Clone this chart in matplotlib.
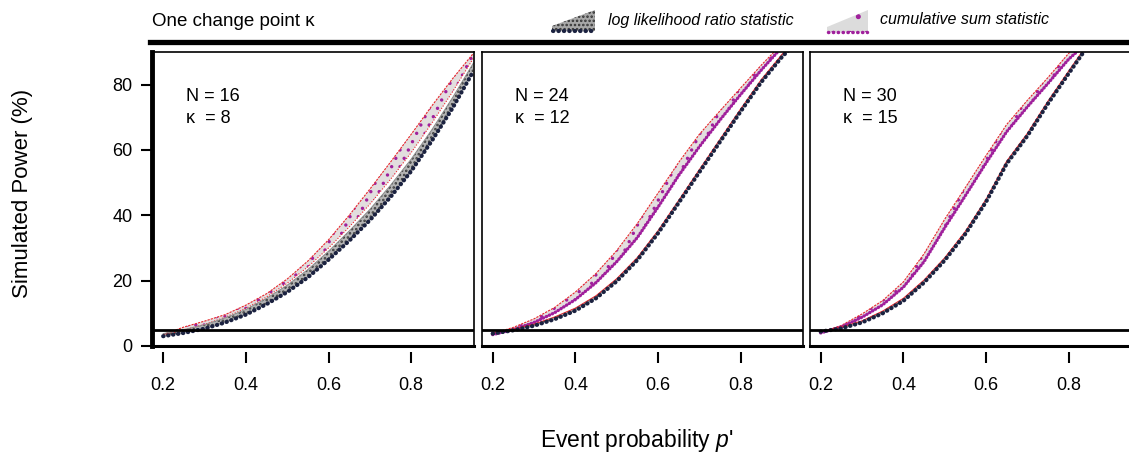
import matplotlib.pyplot as plt
from matplotlib.lines import Line2D
from matplotlib.patches import Polygon

plt.rcParams['font.family'] = ['Liberation Sans', 'DejaVu Sans']
plt.rcParams['mathtext.fontset'] = 'custom'
plt.rcParams['mathtext.it'] = 'Liberation Sans:italic'
plt.rcParams['mathtext.rm'] = 'Liberation Sans'
plt.rcParams['hatch.linewidth'] = 1.2

# event probability grid
p_grid = [0.20, 0.25, 0.30, 0.35, 0.40, 0.45, 0.50, 0.55,
          0.60, 0.65, 0.70, 0.75, 0.80, 0.85, 0.90, 0.95]

# N = 16, kappa = 8
n16_llr_lo = [3.0, 4.0, 5.3, 7.2, 9.6, 12.8, 16.5, 21.0, 26.4, 32.2, 38.5, 45.6, 53.5, 62.8, 72.8, 84.0]
n16_llr_hi = [3.8, 5.0, 6.5, 8.6, 11.2, 14.6, 18.6, 23.4, 29.0, 35.2, 41.8, 49.2, 57.2, 66.2, 76.0, 86.5]
n16_cus_lo = [3.3, 4.9, 6.6, 8.8, 11.5, 15.0, 19.2, 24.2, 30.0, 36.4, 43.4, 51.0, 59.2, 68.2, 77.8, 88.0]
n16_cus_hi = [3.5, 5.8, 7.6, 9.6, 12.5, 16.0, 20.5, 26.0, 32.5, 40.0, 48.0, 56.3, 64.8, 73.5, 81.8, 89.5]

# N = 24, kappa = 12
n24_llr_lo = [3.8, 4.8, 6.2, 8.2, 10.8, 14.6, 19.8, 26.3, 34.5, 43.8, 53.2, 62.5, 71.8, 80.8, 88.5, 95.0]
n24_llr_hi = [4.0, 5.2, 6.7, 8.9, 11.6, 15.4, 20.6, 27.1, 35.3, 44.6, 54.0, 63.3, 72.6, 81.6, 89.3, 95.8]
n24_cus_lo = [3.5, 5.0, 7.2, 10.2, 14.2, 19.4, 25.8, 33.2, 42.5, 52.2, 61.0, 69.2, 77.0, 84.5, 91.5, 96.0]
n24_cus_hi = [3.8, 5.7, 8.3, 11.8, 16.5, 22.2, 29.2, 37.5, 46.8, 56.2, 64.8, 72.0, 79.0, 86.0, 92.5, 97.0]

# N = 30, kappa = 15
n30_llr_lo = [4.4, 5.4, 7.2, 10.0, 13.8, 19.4, 26.2, 34.3, 44.1, 55.8, 64.3, 74.2, 83.4, 92.5, 99.0, 100.0]
n30_llr_hi = [4.6, 5.8, 7.7, 10.7, 14.6, 20.2, 27.0, 35.1, 44.9, 56.6, 65.1, 75.0, 84.2, 93.3, 99.8, 100.0]
n30_cus_lo = [4.0, 5.8, 8.8, 12.6, 18.0, 25.8, 36.2, 46.0, 56.0, 65.6, 73.2, 80.4, 87.8, 93.5, 98.4, 100.0]
n30_cus_hi = [4.2, 6.3, 9.8, 13.9, 19.6, 28.2, 38.8, 48.5, 58.3, 67.8, 75.2, 82.2, 89.6, 95.0, 99.0, 100.0]

panel_n = [16, 24, 30]
panel_kappa = [8, 12, 15]
llr_lo = [n16_llr_lo, n24_llr_lo, n30_llr_lo]
llr_hi = [n16_llr_hi, n24_llr_hi, n30_llr_hi]
cus_lo = [n16_cus_lo, n24_cus_lo, n30_cus_lo]
cus_hi = [n16_cus_hi, n24_cus_hi, n30_cus_hi]

NAVY = '#1b2240'
MAGENTA = '#a0209c'
RED = '#e8252a'

W, H = 1129, 458
fig = plt.figure(figsize=(W / 100, H / 100), dpi=100)


def fx(x):
    return x / W


def fy(y):
    return 1 - y / H


lefts = [152, 481.5, 809.5]
for i in range(3):
    ax = fig.add_axes([fx(lefts[i]), fy(346), 322 / W, 294 / H])
    ax.set_xlim(0.173, 0.952)
    ax.set_ylim(0, 90)

    # cumulative sum band
    ax.fill_between(p_grid, cus_lo[i], cus_hi[i], facecolor='#e2dede',
                    edgecolor=MAGENTA, hatch='..', linewidth=0)
    ax.plot(p_grid, cus_hi[i], color=RED, lw=0.8, ls=(0, (2, 1)))
    if i == 0:
        ax.plot(p_grid, cus_lo[i], color=RED, lw=0.8, ls=(0, (1, 1.5)))
    else:
        ax.plot(p_grid, cus_lo[i], color=MAGENTA, lw=2.4, ls=(0, (0.1, 0.9)),
                dash_capstyle='round')

    # log likelihood ratio band
    ax.fill_between(p_grid, llr_lo[i], llr_hi[i], facecolor='#b4b4b4',
                    edgecolor='#3a3a3a', hatch='....', linewidth=0)
    ax.plot(p_grid, llr_hi[i], color=RED if i else '#8c8c8c', lw=0.7)
    ax.plot(p_grid, llr_lo[i], color=NAVY, lw=3, ls=(0, (0.1, 1.1)),
            dash_capstyle='round')

    ax.axhline(5, color='k', lw=2)

    # box + R-style offset x axis
    ax.spines['bottom'].set_position(('outward', 4))
    ax.spines['bottom'].set_visible(False)
    ax.plot([0, 1], [0, 0], transform=ax.transAxes, color='k', lw=2.2, clip_on=False)
    for s in ['top', 'right', 'left']:
        ax.spines[s].set_linewidth(1.2)
    ax.set_xticks([0.2, 0.4, 0.6, 0.8])
    ax.set_xticklabels(['0.2', '0.4', '0.6', '0.8'])
    ax.tick_params(axis='x', direction='out', length=8, width=1.5, pad=10,
                   labelsize=13)
    if i == 0:
        ax.spines['left'].set_linewidth(3.5)
        ax.set_yticks([0, 20, 40, 60, 80])
        ax.tick_params(axis='y', direction='out', length=8, width=1.5, pad=6,
                       labelsize=13)
    else:
        ax.set_yticks([])

    ax.text(0.105, 0.847, f'N = {panel_n[i]}', transform=ax.transAxes,
            fontsize=13, va='center')
    ax.text(0.105, 0.775, f'κ  = {panel_kappa[i]}', transform=ax.transAxes,
            fontsize=13, va='center')

# header
fig.text(fx(152), fy(21), 'One change point κ', fontsize=13.5, va='center')
fig.add_artist(Line2D([fx(150), fx(1129)], [fy(42), fy(42)], color='k', lw=3.8,
                      transform=fig.transFigure))

# legend
fig.add_artist(Polygon([(fx(552), fy(31)), (fx(595), fy(31)), (fx(595), fy(10)),
                        (fx(552), fy(26))], closed=True, transform=fig.transFigure,
                       facecolor='#a8a8a8', edgecolor='#333333', hatch='....', lw=0))
fig.add_artist(Line2D([fx(553), fx(595)], [fy(31), fy(31)], color=NAVY, lw=3,
                      ls=(0, (0.1, 1.2)), dash_capstyle='round',
                      transform=fig.transFigure))
fig.text(fx(608), fy(20), 'log likelihood ratio statistic', style='italic',
         fontsize=11.5, va='center')

fig.add_artist(Polygon([(fx(827), fy(32)), (fx(868), fy(32)), (fx(868), fy(10)),
                        (fx(827), fy(27))], closed=True, transform=fig.transFigure,
                       facecolor='#dcdcdc', edgecolor=MAGENTA, hatch='.', lw=0))
fig.add_artist(Line2D([fx(828), fx(867)], [fy(32), fy(32)], color=MAGENTA, lw=2.5,
                      ls=(0, (0.1, 1.3)), dash_capstyle='round',
                      transform=fig.transFigure))
fig.text(fx(880), fy(20), 'cumulative sum statistic', style='italic',
         fontsize=11.5, va='center')

# axis titles
fig.text(fx(23), fy(193), 'Simulated Power (%)', rotation=90, va='center',
         ha='center', fontsize=16)
fig.text(fx(637), fy(441), "Event probability $p$'", ha='center', va='center',
         fontsize=16.5)

fig.savefig('out.png', dpi=100)
